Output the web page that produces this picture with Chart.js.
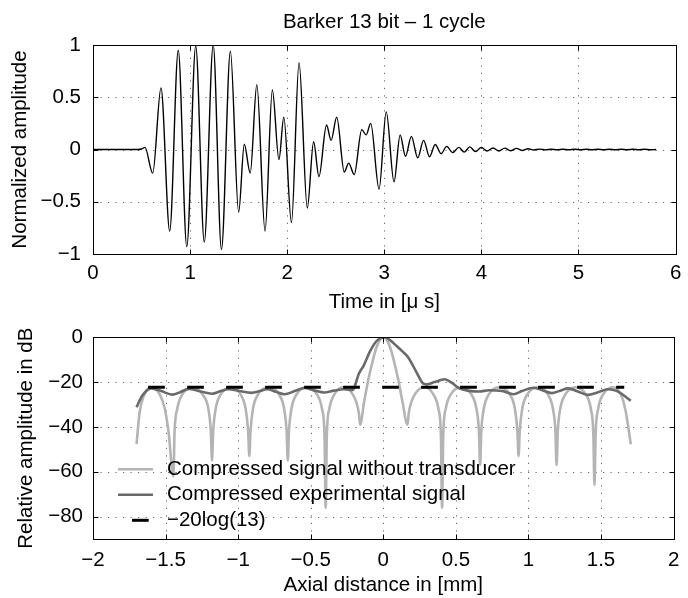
<!DOCTYPE html>
<html>
<head>
<meta charset="utf-8">
<title>Barker 13 bit – 1 cycle</title>
<script src="https://cdn.jsdelivr.net/npm/chart.js@4.4.1/dist/chart.umd.min.js"></script>
<style>
  html, body { margin: 0; padding: 0; background: #fff; }
  #wrap { position: relative; width: 688px; height: 598px; background: #fff; }
  #wrap canvas { position: absolute; left: 0; }
  #signalChart { top: 0; }
  #compressChart { top: 315px; }
</style>
</head>
<body>
<div id="wrap">
  <canvas id="signalChart" width="688" height="315"></canvas>
  <canvas id="compressChart" width="688" height="283"></canvas>
</div>
<script>
// Top panel: received echo (extrema of the waveform)
const timeUs = [
  0, 0.46, 0.50, 0.535, 0.615, 0.70, 0.79, 0.878, 0.966, 1.058,
  1.146, 1.238, 1.323, 1.415, 1.50, 1.558, 1.619, 1.687, 1.772, 1.847,
  1.915, 1.965, 2.044, 2.122, 2.207, 2.272, 2.327, 2.405, 2.452, 2.51,
  2.588, 2.633, 2.69, 2.768, 2.813, 2.86, 2.946, 3.02, 3.10, 3.163,
  3.218, 3.279, 3.344, 3.405, 3.466, 3.524, 3.585, 3.643, 3.704, 3.768,
  3.823, 3.88, 3.939, 4.0, 4.058, 4.12, 4.18, 4.24, 4.30, 4.36,
  4.42, 4.48, 4.54, 4.60, 4.66, 4.72, 4.78, 4.84, 4.90, 4.96,
  5.02, 5.08, 5.14, 5.20, 5.26, 5.32, 5.38, 5.44, 5.50, 5.56,
  5.62, 5.68, 5.74, 5.80
];
const amplitude = [
  0, 0, 0.005, 0.02, -0.226, 0.59, -0.78, 0.95, -0.93, 0.99,
  -0.886, 1.0, -0.957, 0.94, -0.60, 0.05, -0.226, 0.62, -0.78, 0.57,
  -0.097, 0.31, -0.70, 0.83, -0.56, 0.074, -0.26, 0.235, 0.087, 0.31,
  -0.216, -0.13, -0.24, 0.19, 0.14, 0.25, -0.38, 0.36, -0.31, 0.14,
  -0.065, 0.126, -0.08, 0.087, -0.07, 0.048, -0.04, 0.03, -0.03, 0.02,
  -0.025, 0.025, -0.02, 0.02, -0.015, 0.015, -0.014, 0.013, -0.012, 0.011,
  -0.009, 0.007, -0.005, 0.004, -0.004, 0.003, -0.003, 0.003, -0.002, 0.002,
  -0.002, 0.003, -0.003, 0.002, -0.002, 0.003, -0.003, 0.002, -0.002, 0.003,
  -0.003, 0.002, -0.002, 0
];
const timeTicks = [0, 1, 2, 3, 4, 5, 6];
const ampTicks = [-1, -0.5, 0, 0.5, 1];

// Bottom panel: compressed signals in dB
const distNoTransducer = [
  -1.700, -1.680, -1.655, -1.600, -1.540, -1.505, -1.480, -1.446,
  -1.438, -1.420, -1.385, -1.313, -1.245, -1.205, -1.188, -1.180,
  -1.172, -1.155, -1.120, -1.051, -0.983, -0.948, -0.931, -0.923,
  -0.915, -0.898, -0.863, -0.790, -0.718, -0.683, -0.666, -0.658,
  -0.650, -0.633, -0.598, -0.528, -0.457, -0.422, -0.405, -0.397,
  -0.389, -0.372, -0.337, -0.279, -0.220, -0.185, -0.168, -0.160,
  -0.130, -0.100, -0.075, -0.050, -0.025, 0.000,
  0.025, 0.050, 0.075, 0.100, 0.130, 0.167,
  0.175, 0.192, 0.227, 0.286, 0.345, 0.380, 0.397, 0.405,
  0.413, 0.430, 0.465, 0.536, 0.607, 0.642, 0.659, 0.667,
  0.675, 0.692, 0.727, 0.800, 0.872, 0.907, 0.924, 0.932,
  0.940, 0.957, 0.992, 1.063, 1.134, 1.169, 1.186, 1.194,
  1.202, 1.219, 1.254, 1.325, 1.395, 1.430, 1.447, 1.455,
  1.463, 1.480, 1.515, 1.580, 1.640, 1.670, 1.690, 1.705
];
const dbNoTransducer = [
  -47.7, -34, -27, -22.3, -25.5, -32, -42, -62,
  -42, -32, -25.5, -22.3, -25.5, -32, -42, -55,
  -42, -32, -25.5, -22.3, -25.5, -32, -42, -53,
  -42, -32, -25.5, -22.3, -25.5, -32, -42, -55,
  -42, -32, -25.5, -22.3, -25.5, -32, -44, -76,
  -44, -32, -25.5, -22.3, -24.5, -29, -34, -39,
  -28, -18, -11, -5, -1.3, 0,
  -1.3, -5, -11, -18, -28, -39,
  -34, -29, -24.5, -22.3, -25.5, -32, -44, -76,
  -44, -32, -25.5, -22.3, -25.5, -32, -42, -57,
  -42, -32, -25.5, -22.3, -25.5, -32, -42, -53,
  -42, -32, -25.5, -22.3, -25.5, -32, -42, -57,
  -42, -32, -25.5, -22.3, -25.5, -32, -43, -66,
  -43, -32, -25.5, -22.3, -26, -33, -41, -47.7
];
const distExperimental = [
  -1.700, -1.660, -1.600, -1.530, -1.453, -1.400, -1.339, -1.260, -1.180, -1.120,
  -1.067, -0.990, -0.908, -0.850, -0.799, -0.740, -0.680, -0.610, -0.544, -0.470,
  -0.408, -0.340, -0.271, -0.210, -0.190, -0.170, -0.135, -0.090, -0.044, 0.012,
  0.050, 0.092, 0.130, 0.172, 0.228, 0.274, 0.300, 0.353, 0.421, 0.478,
  0.523, 0.591, 0.660, 0.728, 0.819, 0.898, 0.955, 1.034, 1.100, 1.160,
  1.220, 1.273, 1.340, 1.409, 1.480, 1.545, 1.600, 1.637, 1.705
];
const dbExperimental = [
  -31.2, -26, -22.8, -24, -25.6, -24.5, -23, -24.2, -25.2, -24,
  -23.2, -24, -24.8, -24, -23.2, -24.3, -25.4, -24, -22.6, -23.8,
  -24.6, -23.8, -23.2, -23.5, -20.5, -16.5, -12.6, -6.1, -1.5, 0,
  -1.5, -3.9, -6.2, -9, -15.5, -20.6, -21, -20, -18.7, -20.6,
  -22.8, -23.9, -24.2, -23.6, -24, -25.4, -24, -22.5, -23.7, -24.9,
  -23.8, -22.8, -24.2, -25.7, -24.5, -23.2, -23.8, -25, -28.3
];
const distBarkerLevel = [-1.62, 1.66];
const dbBarkerLevel = [-22.28, -22.28];
const distTicks = [-2, -1.5, -1, -0.5, 0, 0.5, 1, 1.5, 2];
const dbTicks = [-80, -60, -40, -20, 0];
const legendLabels = [
  'Compressed signal without transducer',
  'Compressed experimental signal',
  '\u221220log(13)'
];

const FONT_FAMILY = '"Liberation Sans", Arial, Helvetica, sans-serif';
const FONT_SIZE = 20.5;

Chart.defaults.font.family = FONT_FAMILY;
Chart.defaults.font.size = FONT_SIZE;
Chart.defaults.color = '#000';

function toPoints(xs, ys) {
  return xs.map((x, i) => ({ x: x, y: ys[i] }));
}

function fmtTick(value) {
  return String(value).replace('-', '\u2212');
}

// dotted grid under the data, matlab-style box with inward ticks on top
const axesBox = {
  id: 'axesBox',
  beforeDatasetsDraw(chart) {
    const { ctx, chartArea: a, scales } = chart;
    ctx.save();
    ctx.strokeStyle = 'rgba(0,0,0,0.6)';
    ctx.lineWidth = 1;
    ctx.setLineDash([1.2, 6.3]);
    scales.x.ticks.forEach(t => {
      const px = Math.round(scales.x.getPixelForValue(t.value)) + 0.5;
      ctx.beginPath(); ctx.moveTo(px, a.bottom); ctx.lineTo(px, a.top); ctx.stroke();
    });
    scales.y.ticks.forEach(t => {
      const py = Math.round(scales.y.getPixelForValue(t.value)) + 0.5;
      ctx.beginPath(); ctx.moveTo(a.left, py); ctx.lineTo(a.right, py); ctx.stroke();
    });
    ctx.restore();
  },
  afterDatasetsDraw(chart) {
    const { ctx, chartArea: a, scales } = chart;
    const l = Math.round(a.left) + 0.5, r = Math.round(a.right) + 0.5;
    const t = Math.round(a.top) + 0.5, b = Math.round(a.bottom) + 0.5;
    const len = 5;
    ctx.save();
    ctx.strokeStyle = '#000';
    ctx.lineWidth = 1;
    ctx.setLineDash([]);
    ctx.strokeRect(l, t, r - l, b - t);
    ctx.beginPath();
    scales.x.ticks.forEach(tk => {
      const px = Math.round(scales.x.getPixelForValue(tk.value)) + 0.5;
      ctx.moveTo(px, b); ctx.lineTo(px, b - len);
      ctx.moveTo(px, t); ctx.lineTo(px, t + len);
    });
    scales.y.ticks.forEach(tk => {
      const py = Math.round(scales.y.getPixelForValue(tk.value)) + 0.5;
      ctx.moveTo(l, py); ctx.lineTo(l + len, py);
      ctx.moveTo(r, py); ctx.lineTo(r - len, py);
    });
    ctx.stroke();
    ctx.restore();
  }
};

// boxless legend sitting inside the lower axes
const inlineLegend = {
  id: 'inlineLegend',
  afterDatasetsDraw(chart) {
    const { ctx, chartArea: a } = chart;
    const x0 = a.left + 25, x1 = a.left + 60, xText = a.left + 74;
    const y0 = a.top + 132, row = 25.5;
    ctx.save();
    chart.data.datasets.forEach((ds, i) => {
      const y = y0 + i * row;
      ctx.strokeStyle = ds.borderColor;
      ctx.lineWidth = ds.borderWidth;
      ctx.setLineDash(ds.borderDash || []);
      ctx.lineDashOffset = ds.borderDash ? 25 : 0;
      ctx.beginPath(); ctx.moveTo(x0, y); ctx.lineTo(x1, y); ctx.stroke();
      ctx.setLineDash([]);
      ctx.fillStyle = '#000';
      ctx.font = FONT_SIZE + 'px ' + FONT_FAMILY;
      ctx.textAlign = 'left';
      ctx.textBaseline = 'middle';
      ctx.fillText(ds.label, xText, y);
    });
    ctx.restore();
  }
};

function linearAxis(min, max, ticks, opts) {
  return {
    type: 'linear',
    min: min,
    max: max,
    afterBuildTicks: s => { s.ticks = ticks.map(v => ({ value: v })); },
    afterFit: opts.fit,
    grid: { display: false, drawTicks: false },
    border: { display: false },
    ticks: { padding: opts.pad, callback: fmtTick, autoSkip: false, maxRotation: 0, color: '#000' },
    title: { display: true, text: opts.title, color: '#000', padding: opts.titlePad }
  };
}

const signalChart = new Chart(document.getElementById('signalChart'), {
  type: 'line',
  data: {
    datasets: [{
      data: toPoints(timeUs, amplitude),
      borderColor: '#000',
      borderWidth: 1.4,
      pointRadius: 0,
      cubicInterpolationMode: 'monotone'
    }]
  },
  options: {
    responsive: false,
    animation: false,
    layout: { padding: { left: 0, right: 7, top: 0, bottom: 0 } },
    scales: {
      x: linearAxis(0, 6, timeTicks, {
        fit: s => { s.height = 61; }, pad: 6.7,
        title: 'Time in [\u03bc s]', titlePad: { top: 0, bottom: 0 }
      }),
      y: linearAxis(-1, 1, ampTicks, {
        fit: s => { s.width = 93; }, pad: 12,
        title: 'Normalized amplitude', titlePad: { top: 7.7, bottom: 0 }
      })
    },
    plugins: {
      title: {
        display: true,
        text: 'Barker 13 bit \u2013 1 cycle',
        fullSize: false,
        color: '#000',
        font: { size: FONT_SIZE, weight: 'normal' },
        padding: { top: 10, bottom: 10.4 }
      },
      legend: { display: false },
      tooltip: { enabled: false }
    }
  },
  plugins: [axesBox]
});

const compressChart = new Chart(document.getElementById('compressChart'), {
  type: 'line',
  data: {
    datasets: [
      {
        label: legendLabels[0],
        data: toPoints(distNoTransducer, dbNoTransducer),
        borderColor: '#b4b4b4',
        borderWidth: 2.6,
        pointRadius: 0,
        order: 3,
        cubicInterpolationMode: 'monotone'
      },
      {
        label: legendLabels[1],
        data: toPoints(distExperimental, dbExperimental),
        borderColor: '#6a6a6a',
        borderWidth: 2.6,
        pointRadius: 0,
        order: 2,
        cubicInterpolationMode: 'monotone'
      },
      {
        label: legendLabels[2],
        data: toPoints(distBarkerLevel, dbBarkerLevel),
        borderColor: '#000',
        borderWidth: 3,
        borderDash: [16.7, 22.3],
        pointRadius: 0,
        order: 1
      }
    ]
  },
  options: {
    responsive: false,
    animation: false,
    layout: { padding: { left: 0, right: 7, top: 16, bottom: 0 } },
    scales: {
      x: linearAxis(-2, 2, distTicks, {
        fit: s => { s.height = 59; }, pad: 8.7,
        title: 'Axial distance in [mm]', titlePad: { top: 0, bottom: 0.7 }
      }),
      y: linearAxis(-90, 0, dbTicks, {
        fit: s => { s.width = 93; }, pad: 10,
        title: 'Relative amplitude in dB', titlePad: { top: 13.7, bottom: 0 }
      })
    },
    plugins: {
      legend: { display: false },
      tooltip: { enabled: false }
    }
  },
  plugins: [axesBox, inlineLegend]
});
</script>
</body>
</html>
